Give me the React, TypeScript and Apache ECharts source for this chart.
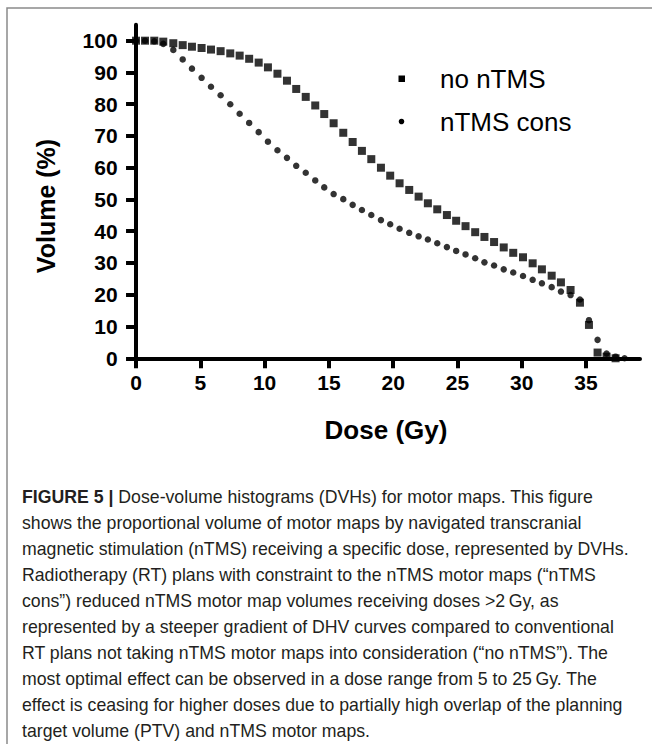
import React, { useEffect, useRef } from "react";
import * as echarts from "echarts";

const doseNoNtms = [0, 0.7, 1.42, 2.12, 2.9, 3.63, 4.35, 5.1, 5.83, 6.58, 7.33, 8.06, 8.8, 9.54, 10.26, 11.0, 11.74, 12.46, 13.2, 13.94, 14.64, 15.37, 16.12, 16.85, 17.57, 18.3, 19.05, 19.77, 20.5, 21.25, 21.98, 22.7, 23.43, 24.18, 24.9, 25.63, 26.38, 27.1, 27.85, 28.6, 29.34, 30.1, 30.85, 31.57, 32.33, 33.05, 33.8, 34.53, 35.23, 35.9, 36.6, 37.3];
const volNoNtms = [100, 100, 100, 99.7, 99.2, 98.6, 98.1, 97.7, 97.2, 96.7, 96.0, 95.3, 94.3, 93.1, 91.6, 89.6, 87.4, 84.8, 82.3, 79.6, 76.9, 74.0, 71.0, 68.1, 65.3, 62.7, 60.0, 57.5, 55.1, 53.0, 50.9, 48.8, 46.9, 45.1, 43.3, 41.6, 39.7, 38.2, 36.6, 34.9, 33.2, 31.8, 29.9, 28.0, 26.0, 23.9, 21.5, 17.5, 10.5, 1.8, 0.5, 0];

const doseCons = [0, 0.7, 1.42, 2.12, 2.9, 3.63, 4.35, 5.1, 5.83, 6.58, 7.33, 8.06, 8.8, 9.54, 10.26, 11.0, 11.74, 12.46, 13.2, 13.94, 14.64, 15.37, 16.12, 16.85, 17.57, 18.3, 19.05, 19.77, 20.5, 21.25, 21.98, 22.7, 23.43, 24.18, 24.9, 25.63, 26.38, 27.1, 27.85, 28.6, 29.34, 30.1, 30.85, 31.57, 32.33, 33.05, 33.8, 34.53, 35.23, 35.9, 36.6, 37.3, 38.0];
const volCons = [100, 100, 99.8, 99.0, 97.1, 94.1, 91.2, 88.3, 85.5, 82.8, 80.0, 77.0, 74.1, 71.2, 68.2, 65.5, 63.1, 60.6, 58.4, 56.0, 53.8, 51.7, 50.1, 48.3, 46.7, 45.1, 43.5, 42.2, 40.8, 39.5, 38.4, 37.4, 36.2, 35.0, 33.8, 32.7, 31.5, 30.2, 29.2, 28.0, 27.0, 25.9, 24.7, 23.6, 22.4, 21.0, 19.9, 18.5, 12.0, 5.8, 1.5, 0.5, 0];

const xTicks = [0, 5, 10, 15, 20, 25, 30, 35];
const yTicks = [0, 10, 20, 30, 40, 50, 60, 70, 80, 90, 100];

const seriesNames = ["no nTMS", "nTMS cons"];
const xTitle = "Dose (Gy)";
const yTitle = "Volume (%)";

const captionLines = [
  "{b|FIGURE 5 |} Dose-volume histograms (DVHs) for motor maps. This figure",
  "shows the proportional volume of motor maps by navigated transcranial",
  "magnetic stimulation (nTMS) receiving a specific dose, represented by DVHs.",
  "Radiotherapy (RT) plans with constraint to the nTMS motor maps (\u201cnTMS",
  "cons\u201d) reduced nTMS motor map volumes receiving doses >2\u2009Gy, as",
  "represented by a steeper gradient of DHV curves compared to conventional",
  "RT plans not taking nTMS motor maps into consideration (\u201cno nTMS\u201d). The",
  "most optimal effect can be observed in a dose range from 5 to 25\u2009Gy. The",
  "effect is ceasing for higher doses due to partially high overlap of the planning",
  "target volume (PTV) and nTMS motor maps.",
];

export default function App() {
  const ref = useRef<HTMLDivElement>(null);
  useEffect(() => {
    if (!ref.current) return;
    const chart = echarts.init(ref.current, undefined, { renderer: "svg" });
    const font = "'Liberation Sans', Arial, sans-serif";
    const captionGraphics = captionLines.map((line, i) => ({
      type: "text",
      x: 22,
      y: 497 + i * 26,
      style: {
        text: line,
        fontFamily: font,
        fontSize: 17.7,
        fill: "#231f20",
        textAlign: "left",
        textVerticalAlign: "middle",
        rich: {
          b: { fontWeight: "bold", fontSize: 17.7, fontFamily: font, fill: "#231f20" },
        },
      },
    }));
    chart.setOption({
      animation: false,
      backgroundColor: "#ffffff",
      grid: { left: 129.6, right: 12, top: 24.8, bottom: 381.6, containLabel: false },
      xAxis: {
        type: "value",
        min: -0.5,
        max: 39.2,
        splitLine: { show: false },
        axisLine: { onZero: true, lineStyle: { color: "#000", width: 4 } },
        axisTick: { customValues: xTicks, length: 10, lineStyle: { color: "#000", width: 4 } },
        axisLabel: {
          customValues: xTicks,
          margin: 10,
          fontFamily: font,
          fontWeight: "bold",
          fontSize: 21,
          color: "#000",
        },
      },
      yAxis: {
        type: "value",
        min: -1.3,
        max: 105,
        splitLine: { show: false },
        axisLine: { onZero: true, lineStyle: { color: "#000", width: 4 } },
        axisTick: { customValues: yTicks, length: 10, lineStyle: { color: "#000", width: 4 } },
        axisLabel: {
          customValues: yTicks,
          margin: 12,
          fontFamily: font,
          fontWeight: "bold",
          fontSize: 21,
          color: "#000",
        },
      },
      series: [
        {
          name: seriesNames[0],
          type: "scatter",
          symbol: "rect",
          symbolSize: 8,
          itemStyle: { color: "#000" },
          data: doseNoNtms.map((d, i) => [d, volNoNtms[i]]),
        },
        {
          name: seriesNames[1],
          type: "scatter",
          symbol: "circle",
          symbolSize: 6.5,
          itemStyle: { color: "#000" },
          data: doseCons.map((d, i) => [d, volCons[i]]),
        },
      ],
      graphic: [
        {
          type: "rect",
          shape: { x: 7, y: 8, width: 700, height: 800 },
          style: { fill: "none", stroke: "#8a8a8a", lineWidth: 1.5 },
          silent: true,
        },
        {
          type: "text",
          x: 46,
          y: 206,
          rotation: Math.PI / 2,
          style: {
            text: yTitle,
            fontFamily: font,
            fontWeight: "bold",
            fontSize: 25,
            fill: "#000",
            textAlign: "center",
            textVerticalAlign: "middle",
          },
        },
        {
          type: "text",
          x: 386,
          y: 430,
          style: {
            text: xTitle,
            fontFamily: font,
            fontWeight: "bold",
            fontSize: 26,
            fill: "#000",
            textAlign: "center",
            textVerticalAlign: "middle",
          },
        },
        { type: "rect", shape: { x: 398.5, y: 75.5, width: 6.5, height: 6.5 }, style: { fill: "#000" } },
        { type: "circle", shape: { cx: 401.5, cy: 121.5, r: 2.8 }, style: { fill: "#000" } },
        {
          type: "text",
          x: 440,
          y: 79,
          style: {
            text: seriesNames[0],
            fontFamily: font,
            fontSize: 26,
            fill: "#000",
            textAlign: "left",
            textVerticalAlign: "middle",
          },
        },
        {
          type: "text",
          x: 440,
          y: 122,
          style: {
            text: seriesNames[1],
            fontFamily: font,
            fontSize: 26,
            fill: "#000",
            textAlign: "left",
            textVerticalAlign: "middle",
          },
        },
        ...captionGraphics,
      ],
    });
    return () => chart.dispose();
  }, []);
  return (
    <div
      ref={ref}
      style={{ position: "absolute", left: 0, top: 0, width: 652, height: 744, background: "#fff" }}
    />
  );
}
